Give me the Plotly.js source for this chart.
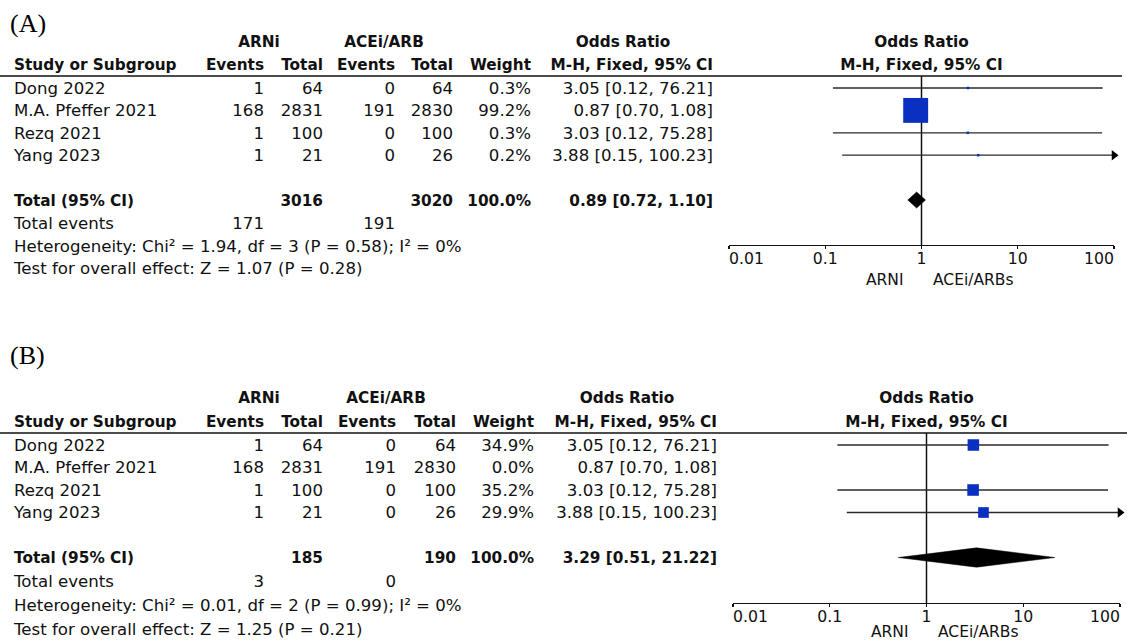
<!DOCTYPE html>
<html>
<head>
<meta charset="utf-8">
<script src="https://cdn.plot.ly/plotly-3.0.1.min.js"></script>
<style>
  html, body { margin: 0; padding: 0; background: #fff; }
  #chart { width: 1127px; height: 642px; }
</style>
</head>
<body>
<div id="chart"></div>
<script>
// ---- Study data (ARNi vs ACEi/ARB) ----
const studies    = ['Dong 2022', 'M.A. Pfeffer 2021', 'Rezq 2021', 'Yang 2023'];
const arniEvents = [1, 168, 1, 1];
const arniTotal  = [64, 2831, 100, 21];
const ctrlEvents = [0, 191, 0, 0];
const ctrlTotal  = [64, 2830, 100, 26];
const orValue    = [3.05, 0.87, 3.03, 3.88];
const orLow      = [0.12, 0.70, 0.12, 0.15];
const orHigh     = [76.21, 1.08, 75.28, 100.23];

// Panel A: all four studies
const weightA    = [0.3, 99.2, 0.3, 0.2];
const pooledA    = [0.89, 0.72, 1.10];      // OR, lower, upper
const totalsA    = [3016, 3020];            // ARNi, ACEi/ARB participants
const eventsA    = [171, 191];              // ARNi, ACEi/ARB events
const hetA       = 'Heterogeneity: Chi² = 1.94, df = 3 (P = 0.58); I² = 0%';
const effectA    = 'Test for overall effect: Z = 1.07 (P = 0.28)';

// Panel B: Pfeffer 2021 carries no weight
const weightB    = [34.9, 0.0, 35.2, 29.9];
const pooledB    = [3.29, 0.51, 21.22];
const totalsB    = [185, 190];
const eventsB    = [3, 0];
const hetB       = 'Heterogeneity: Chi² = 0.01, df = 2 (P = 0.99); I² = 0%';
const effectB    = 'Test for overall effect: Z = 1.25 (P = 0.21)';

// Forest axis
const tickVals   = [0.01, 0.1, 1, 10, 100];
const tickLabels = ['0.01', '0.1', '1', '10', '100'];
const sideLabels = ['ARNI', 'ACEi/ARBs'];

// ---- Page geometry ----
const W = 1127, H = 642;
const FONT = '"DejaVu Sans", Verdana, sans-serif';
const SERIF = '"Liberation Serif", "Times New Roman", serif';
const NORMAL = 16.6, BOLD = 15.3;
const INK = '#111';
const BLUE = '#0a30c2';
const TEXT_DROP = 1.8;   // px: text baseline nudge relative to the plotted rows

const panels = [
  { label: '(A)', labelRow: -2.86, weight: weightA, pooled: pooledA, totals: totalsA, events: eventsA,
    het: hetA, effect: effectA, footStep: 1.02,
    row0: 88, step: 22.4, top: 0, bottom: 300, lineY: 76, axisY: 245, lineEnd: 1122,
    fx0: 729, fx1: 1114, tickRow: 7.6, sideRow: 8.5, sqScale: 2.5, diamondHalf: 0.36,
    col: { study: 14, aEv: 264, aTot: 323, cEv: 395, cTot: 453, wt: 531, ci: 713, aHdr: 259, cHdr: 384, orHdr: 623 } },
  { label: '(B)', labelRow: -3.96, weight: weightB, pooled: pooledB, totals: totalsB, events: eventsB,
    het: hetB, effect: effectB, footStep: 1.065,
    row0: 445, step: 22.5, top: 320, bottom: 642, lineY: 433, axisY: 603, lineEnd: 1127,
    fx0: 733, fx1: 1120, tickRow: 7.6, sideRow: 8.24, sqScale: 1.95, diamondHalf: 0.43,
    col: { study: 14, aEv: 264, aTot: 323, cEv: 396, cTot: 456, wt: 534, ci: 717, aHdr: 259, cHdr: 386, orHdr: 627 } }
];

const fmtCI = (v, lo, hi) => `${v.toFixed(2)} [${lo.toFixed(2)}, ${hi.toFixed(2)}]`;
const axMin = tickVals[0], axMax = tickVals[tickVals.length - 1];

const traces = [];
const layout = {
  width: W, height: H,
  margin: { l: 0, r: 0, t: 0, b: 0, pad: 0 },
  paper_bgcolor: '#fff', plot_bgcolor: 'rgba(0,0,0,0)',
  showlegend: false, hovermode: false,
  shapes: [], annotations: []
};

panels.forEach((p, k) => {
  const n = 3 * k;
  const tx = 'x' + (n + 1), ty = 'y' + (n + 1);          // table axes
  const fx = 'x' + (n + 2), fy = 'y' + (n + 2);          // forest axes
  const ox = 'x' + (n + 3);                               // overlay for inward ticks
  const key = (a) => (a === 'x1' ? 'xaxis' : a === 'y1' ? 'yaxis' : a.replace('x', 'xaxis').replace('y', 'yaxis'));
  const toRow = (px) => (px - p.row0) / p.step;
  const toTextRow = (px) => (px - p.row0 - TEXT_DROP) / p.step;

  layout[key(tx)] = { domain: [0, 1], range: [0, W], visible: false, anchor: ty, fixedrange: true };
  layout[key(ty)] = { domain: [1 - p.bottom / H, 1 - p.top / H], range: [toTextRow(p.bottom), toTextRow(p.top)],
                      visible: false, anchor: tx, fixedrange: true };
  const fDom = [p.fx0 / W, p.fx1 / W];
  layout[key(fx)] = { type: 'log', domain: fDom, range: [Math.log10(axMin), Math.log10(axMax)], anchor: fy,
                      showline: true, linecolor: INK, linewidth: 1.3, ticks: 'outside', ticklen: 3,
                      tickwidth: 1.3, tickcolor: INK, tickmode: 'array', tickvals: tickVals,
                      showticklabels: false, showgrid: false, zeroline: false, fixedrange: true };
  layout[key(ox)] = { type: 'log', domain: fDom, range: [Math.log10(axMin), Math.log10(axMax)], anchor: fy,
                      overlaying: fx, showline: false, ticks: 'inside', ticklen: 6, tickwidth: 1.3,
                      tickcolor: INK, tickmode: 'array', tickvals: tickVals, showticklabels: false,
                      showgrid: false, zeroline: false, fixedrange: true };
  layout[key(fy)] = { domain: [1 - p.axisY / H, 1 - p.lineY / H], range: [toRow(p.axisY), toRow(p.lineY)],
                      visible: false, anchor: fx, fixedrange: true };

  // rule under the column headers
  layout.shapes.push({ type: 'line', xref: 'paper', yref: 'paper', x0: 0, x1: p.lineEnd / W,
                       y0: 1 - p.lineY / H, y1: 1 - p.lineY / H, line: { color: INK, width: 1.3 } });

  // ---- table cells ----
  const c = p.col;
  const cells = [];
  const add = (x, r, t, pos, bold) => cells.push({ x, r, t, pos, bold });
  const hdr1 = -2.1, hdr2 = -1.06;
  add(c.aHdr, hdr1, 'ARNi', 'middle center', true);
  add(c.cHdr, hdr1, 'ACEi/ARB', 'middle center', true);
  add(c.orHdr, hdr1, 'Odds Ratio', 'middle center', true);
  add(c.study, hdr2, 'Study or Subgroup', 'middle right', true);
  add(c.aEv, hdr2, 'Events', 'middle left', true);
  add(c.aTot, hdr2, 'Total', 'middle left', true);
  add(c.cEv, hdr2, 'Events', 'middle left', true);
  add(c.cTot, hdr2, 'Total', 'middle left', true);
  add(c.wt, hdr2, 'Weight', 'middle left', true);
  add(c.ci, hdr2, 'M-H, Fixed, 95% CI', 'middle left', true);
  studies.forEach((s, i) => {
    add(c.study, i, s, 'middle right', false);
    add(c.aEv, i, String(arniEvents[i]), 'middle left', false);
    add(c.aTot, i, String(arniTotal[i]), 'middle left', false);
    add(c.cEv, i, String(ctrlEvents[i]), 'middle left', false);
    add(c.cTot, i, String(ctrlTotal[i]), 'middle left', false);
    add(c.wt, i, p.weight[i].toFixed(1) + '%', 'middle left', false);
    add(c.ci, i, fmtCI(orValue[i], orLow[i], orHigh[i]), 'middle left', false);
  });
  const tRow = studies.length + 1;
  const wSum = p.weight.reduce((a, b) => a + b, 0);
  add(c.study, tRow, 'Total (95% CI)', 'middle right', true);
  add(c.aTot, tRow, String(p.totals[0]), 'middle left', true);
  add(c.cTot, tRow, String(p.totals[1]), 'middle left', true);
  add(c.wt, tRow, wSum.toFixed(1) + '%', 'middle left', true);
  add(c.ci, tRow, fmtCI(p.pooled[0], p.pooled[1], p.pooled[2]), 'middle left', true);
  const f1 = tRow + p.footStep, f2 = tRow + 2 * p.footStep, f3 = tRow + 3 * p.footStep;
  add(c.study, f1, 'Total events', 'middle right', false);
  add(c.aEv, f1, String(p.events[0]), 'middle left', false);
  add(c.cEv, f1, String(p.events[1]), 'middle left', false);
  add(c.study, f2, p.het, 'middle right', false);
  add(c.study, f3, p.effect, 'middle right', false);

  traces.push({
    type: 'scatter', mode: 'text', xaxis: tx, yaxis: ty, cliponaxis: false,
    x: cells.map(d => d.x), y: cells.map(d => d.r),
    text: cells.map(d => d.bold ? '<b>' + d.t + '</b>' : d.t),
    textposition: cells.map(d => d.pos),
    textfont: { family: FONT, color: INK, size: cells.map(d => d.bold ? BOLD : NORMAL) }
  });
  // panel letter
  traces.push({
    type: 'scatter', mode: 'text', xaxis: tx, yaxis: ty, cliponaxis: false,
    x: [10], y: [p.labelRow], text: [p.label], textposition: 'middle right',
    textfont: { family: SERIF, size: 26, color: '#000' }
  });

  // ---- forest plot ----
  // line of no effect
  traces.push({ type: 'scatter', mode: 'lines', xaxis: fx, yaxis: fy,
                x: [1, 1], y: [toRow(p.axisY), toRow(p.lineY)], line: { color: INK, width: 1.5 } });
  const shown = studies.map((s, i) => i).filter(i => p.weight[i] > 0);
  shown.forEach(i => {
    traces.push({ type: 'scatter', mode: 'lines', xaxis: fx, yaxis: fy, cliponaxis: true,
                  x: [orLow[i], orHigh[i]], y: [i, i], line: { color: '#2a2a2a', width: 1.3 } });
  });
  const clipped = shown.filter(i => orHigh[i] > axMax);
  if (clipped.length) {
    traces.push({ type: 'scatter', mode: 'markers', xaxis: fx, yaxis: fy, cliponaxis: false,
                  x: clipped.map(() => axMax), y: clipped,
                  marker: { symbol: 'triangle-right', size: 9, color: '#000', opacity: 1, line: { width: 0 } } });
  }
  traces.push({ type: 'scatter', mode: 'markers', xaxis: fx, yaxis: fy, cliponaxis: false,
                x: shown.map(i => orValue[i]), y: shown,
                marker: { symbol: 'square', color: BLUE, opacity: 1, line: { width: 0 },
                          size: shown.map(i => Math.max(2.5, p.sqScale * Math.sqrt(p.weight[i]))) } });
  // pooled diamond
  const h = p.diamondHalf;
  traces.push({ type: 'scatter', mode: 'lines', xaxis: fx, yaxis: fy, fill: 'toself', fillcolor: '#000',
                x: [p.pooled[1], p.pooled[0], p.pooled[2], p.pooled[0], p.pooled[1]],
                y: [tRow, tRow - h, tRow, tRow + h, tRow], line: { color: '#000', width: 0.5 } });

  // forest headers and tick labels share the table rows
  const ftxt = [
    { x: 1, r: hdr1, t: '<b>Odds Ratio</b>', pos: 'middle center', s: BOLD },
    { x: 1, r: hdr2, t: '<b>M-H, Fixed, 95% CI</b>', pos: 'middle center', s: BOLD }
  ];
  tickVals.forEach((v, j) => {
    const pos = j === 0 ? 'middle right' : j === tickVals.length - 1 ? 'middle left' : 'middle center';
    ftxt.push({ x: v, r: p.tickRow, t: tickLabels[j], pos, s: 15.7 });
  });
  traces.push({ type: 'scatter', mode: 'text', xaxis: fx, yaxis: ty, cliponaxis: true,
                x: ftxt.map(d => d.x), y: ftxt.map(d => d.r), text: ftxt.map(d => d.t),
                textposition: ftxt.map(d => d.pos),
                textfont: { family: FONT, color: INK, size: ftxt.map(d => d.s) } });
  // favours labels either side of OR = 1
  layout.annotations.push(
    { xref: fx, yref: ty, x: 0, y: p.sideRow, text: sideLabels[0], showarrow: false,
      xanchor: 'right', xshift: -16, font: { family: FONT, size: 15.5, color: INK } },
    { xref: fx, yref: ty, x: 0, y: p.sideRow, text: sideLabels[1], showarrow: false,
      xanchor: 'left', xshift: 9, font: { family: FONT, size: 15.5, color: INK } }
  );
});

Plotly.newPlot('chart', traces, layout, { staticPlot: true, displayModeBar: false });
</script>
</body>
</html>
